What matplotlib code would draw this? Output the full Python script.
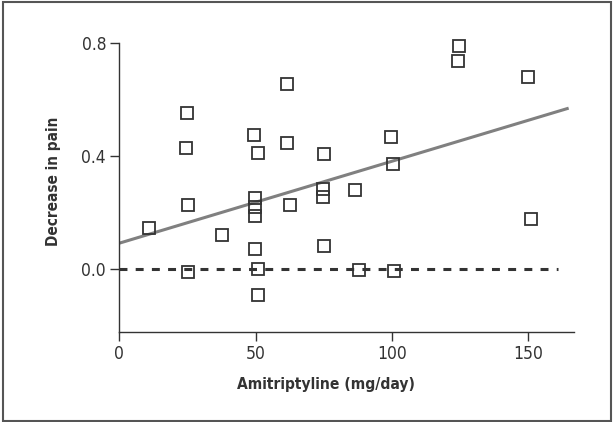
import matplotlib
matplotlib.use("Agg")
import matplotlib.pyplot as plt
from matplotlib.patches import Rectangle

# dose (mg/day) and decrease in pain
dose = [11.0, 24.4, 25.0, 25.3, 25.3, 37.5, 49.5, 50.7, 49.6, 49.6,
        49.6, 49.6, 50.7, 50.7, 61.4, 61.6, 62.7, 74.6, 74.6, 75.2,
        75.1, 86.4, 87.9, 99.5, 100.5, 100.6, 124.5, 124.3, 149.9, 150.8]
pain = [0.144, 0.429, 0.550, 0.227, -0.010, 0.120, 0.474, 0.409, 0.251, 0.220,
        0.187, 0.071, -0.001, -0.091, 0.654, 0.447, 0.227, 0.283, 0.256, 0.408,
        0.081, 0.280, -0.004, 0.467, 0.372, -0.008, 0.789, 0.735, 0.677, 0.178]

# regression line end points
fit_x = [0, 164.2]
fit_y = [0.091, 0.567]

# zero reference line
zero_x = [0, 161]
zero_y = [0, 0]

xticks = [0, 50, 100, 150]
yticks = [0.0, 0.4, 0.8]
ytick_labels = ["0.0", "0.4", "0.8"]

dark = "#333333"
fam = ["DejaVu Sans"]

fig = plt.figure(figsize=(6.14, 4.22), dpi=100)
ax = fig.add_axes([0.1943, 0.214, 0.7406, 0.6848])

ax.plot(zero_x, zero_y, color=dark, lw=2.2, dashes=(2.6, 2.7), zorder=2)
ax.plot(fit_x, fit_y, color="#808080", lw=2.2, zorder=2)
ax.plot(dose, pain, ls="none", marker="s", ms=9.2, mfc="none",
        mec=dark, mew=1.3, zorder=3, clip_on=False)

ax.set_xlim(0, 166.7)
ax.set_ylim(-0.222, 0.8)
ax.set_xticks(xticks)
ax.set_yticks(yticks)
ax.set_yticklabels(ytick_labels)

for s in ["top", "right"]:
    ax.spines[s].set_visible(False)
for s in ["left", "bottom"]:
    ax.spines[s].set_color(dark)
    ax.spines[s].set_linewidth(1.0)

ax.tick_params(colors=dark, length=6.5, width=1.0, pad=3, labelsize=12.5)
for lab in ax.get_xticklabels() + ax.get_yticklabels():
    lab.set_family(fam)
    lab.set_fontstretch("condensed")

ax.set_xlabel("Amitriptyline (mg/day)", fontsize=11.2, fontweight="bold",
              color=dark, family=fam, fontstretch="condensed")
ax.set_ylabel("Decrease in pain", fontsize=11, fontweight="bold",
              color=dark, family=fam, fontstretch="condensed")
ax.xaxis.set_label_coords((325.6 - 119.3) / (574 - 119.3), 1 - (377 - 42.7) / 289.0)
ax.yaxis.set_label_coords((61 - 119.3) / (574 - 119.3), 1 - (181 - 42.7) / 289.0)

# outer frame around the whole figure
fig.patches.append(Rectangle((3 / 614, 1 / 422), 608 / 614, 419 / 422,
                             transform=fig.transFigure, fill=False,
                             edgecolor="#555555", lw=1.5))

fig.savefig("out.png", dpi=100)
